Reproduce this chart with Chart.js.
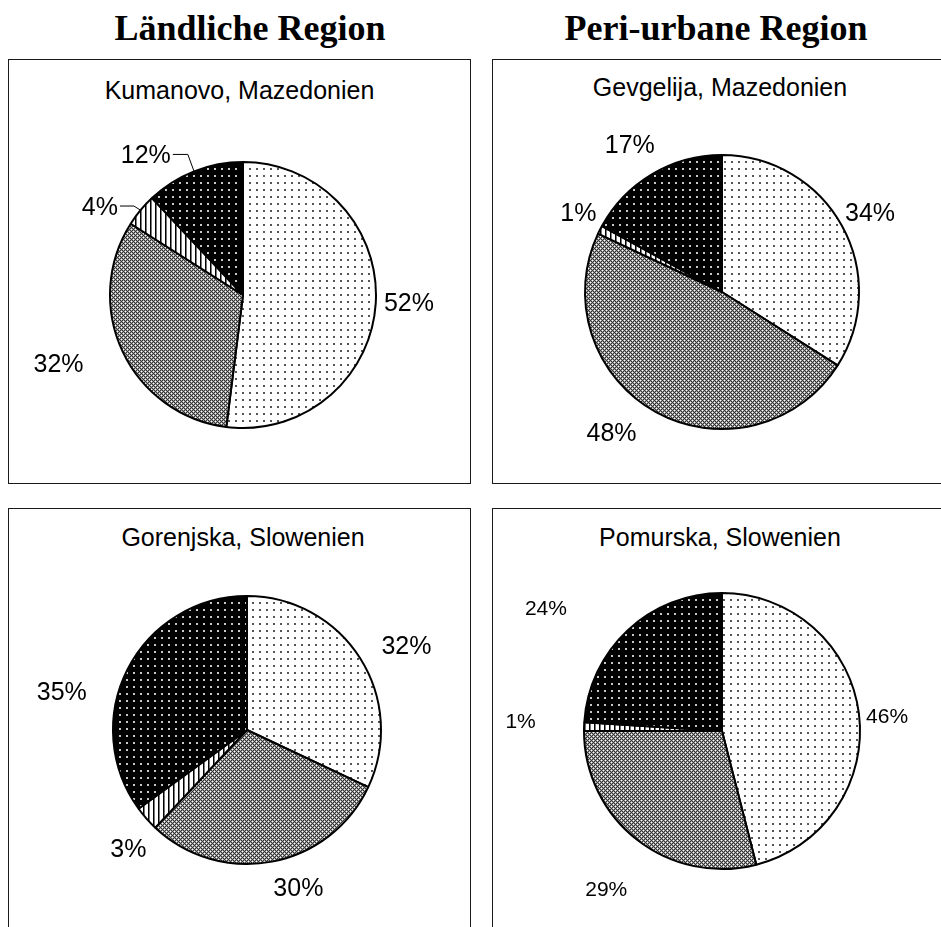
<!DOCTYPE html>
<html lang="de">
<head>
<meta charset="utf-8">
<title>Ländliche und peri-urbane Regionen</title>
<script src="https://cdn.jsdelivr.net/npm/chart.js@4.4.1/dist/chart.umd.min.js"></script>
<style>
  html, body { margin: 0; padding: 0; background: #fff; }
  body { width: 941px; height: 927px; position: relative; overflow: hidden; }
  .head {
    position: absolute; top: 8px; width: 500px; text-align: center;
    font-family: "Liberation Serif", "Times New Roman", serif; font-weight: bold;
    font-size: 36px; line-height: 40px; color: #000;
  }
  .panel {
    position: absolute; box-sizing: border-box; border: 1.5px solid #1a1a1a; background: transparent;
  }
  .sub {
    position: absolute; text-align: center;
    font-family: "Liberation Sans", Arial, sans-serif; font-size: 25px; line-height: 30px; color: #000;
  }
  canvas { position: absolute; }
</style>
</head>
<body>
<div class="head" style="left:0px;">Ländliche Region</div>
<div class="head" style="left:466px;">Peri-urbane Region</div>

<div class="panel" style="left:8px; top:59px; width:463px; height:425px;"></div>
<div class="panel" style="left:492px; top:59px; width:463px; height:425px;"></div>
<div class="panel" style="left:8px; top:508px; width:463px; height:440px;"></div>
<div class="panel" style="left:492px; top:508px; width:463px; height:440px;"></div>

<div class="sub" style="left:8px; width:463px; top:75px;">Kumanovo, Mazedonien</div>
<div class="sub" style="left:492px; width:456px; top:72px;">Gevgelija, Mazedonien</div>
<div class="sub" style="left:8px; width:470px; top:522px;">Gorenjska, Slowenien</div>
<div class="sub" style="left:492px; width:456px; top:522px;">Pomurska, Slowenien</div>

<canvas id="kumanovo"></canvas>
<canvas id="gevgelija"></canvas>
<canvas id="gorenjska"></canvas>
<canvas id="pomurska"></canvas>

<script>
// Shares (%) per region, clockwise from 12 o'clock
const categories = ['Kategorie 1', 'Kategorie 2', 'Kategorie 3', 'Kategorie 4'];
const kumanovoShares  = [52, 32, 4, 12];
const gevgelijaShares = [34, 48, 1, 17];
const gorenjskaShares = [32, 30, 3, 35];
const pomurskaShares  = [46, 29, 1, 24];

// ---- fill patterns ----
function makeTile(w, h, draw) {
  const c = document.createElement('canvas');
  c.width = w; c.height = h;
  const g = c.getContext('2d');
  draw(g);
  return g.createPattern(c, 'repeat');
}
const dotsOnWhite = makeTile(7, 7, g => {
  g.fillStyle = '#fff'; g.fillRect(0, 0, 7, 7);
  g.fillStyle = '#555'; g.fillRect(3, 3, 2, 2);
});
const greyHatch = makeTile(4, 4, g => {
  g.fillStyle = '#a0a0a0'; g.fillRect(0, 0, 4, 4);
  g.fillStyle = '#333';
  [[0,0],[1,1],[2,2],[3,3],[1,3],[3,1]].forEach(([x, y]) => g.fillRect(x, y, 1, 1));
  g.fillStyle = '#fff';
  g.fillRect(2, 0, 1, 1); g.fillRect(0, 2, 1, 1);
});
const verticalStripes = makeTile(5, 4, g => {
  g.fillStyle = '#fff'; g.fillRect(0, 0, 5, 4);
  g.fillStyle = '#000'; g.fillRect(0, 0, 1, 4);
  g.fillStyle = '#777'; g.fillRect(1, 0, 1, 4);
});
const dotsOnBlack = makeTile(7, 7, g => {
  g.fillStyle = '#000'; g.fillRect(0, 0, 7, 7);
  g.fillStyle = '#c8c8c8'; g.fillRect(3, 3, 2, 2);
});
const sliceFills = [dotsOnWhite, greyHatch, verticalStripes, dotsOnBlack];

// ---- percentage labels outside the slices ----
const pieLabels = {
  id: 'pieLabels',
  afterDatasetsDraw(chart, args, opts) {
    const ctx = chart.ctx;
    const meta = chart.getDatasetMeta(0);
    const values = chart.data.datasets[0].data;
    ctx.save();
    ctx.font = opts.size + 'px "Liberation Sans", Arial, sans-serif';
    ctx.fillStyle = '#000';
    ctx.strokeStyle = '#000';
    ctx.lineWidth = 1;
    ctx.textAlign = 'center';
    ctx.textBaseline = 'middle';
    meta.data.forEach((arc, i) => {
      const p = arc.getProps(['x', 'y', 'startAngle', 'endAngle', 'outerRadius'], true);
      const mid = (p.startAngle + p.endAngle) / 2;
      const d = p.outerRadius * opts.distance;
      const n = (opts.nudge && opts.nudge[i]) || [0, 0];
      const lx = p.x + Math.cos(mid) * d + n[0];
      const ly = p.y + Math.sin(mid) * d + n[1] + 2;
      const text = values[i] + '%';
      ctx.fillText(text, lx, ly);
      const run = opts.leaders && opts.leaders[i];
      if (run) {
        const w = ctx.measureText(text).width;
        const ex = p.x + Math.cos(mid) * p.outerRadius;
        const ey = p.y + Math.sin(mid) * p.outerRadius;
        const sx = lx + w / 2 + 2;
        const sy = ly - 2;
        ctx.beginPath();
        ctx.moveTo(sx, sy);
        ctx.lineTo(sx + run, sy);
        ctx.lineTo(ex, ey);
        ctx.stroke();
      }
    });
    ctx.restore();
  }
};

function drawPie(id, shares, cx, cy, radius, labelOpts) {
  const canvas = document.getElementById(id);
  const size = 2 * (radius + 95);
  canvas.width = size; canvas.height = size;
  canvas.style.left = (cx - size / 2) + 'px';
  canvas.style.top = (cy - size / 2) + 'px';
  canvas.style.width = size + 'px';
  canvas.style.height = size + 'px';
  return new Chart(canvas, {
    type: 'pie',
    data: {
      labels: categories,
      datasets: [{
        data: shares,
        backgroundColor: sliceFills,
        borderColor: '#000',
        borderWidth: 2
      }]
    },
    options: {
      responsive: false,
      animation: false,
      devicePixelRatio: 1,
      radius: radius,
      layout: { padding: 0 },
      plugins: {
        legend: { display: false },
        tooltip: { enabled: false },
        title: { display: false },
        pieLabels: labelOpts
      }
    },
    plugins: [pieLabels]
  });
}

drawPie('kumanovo', kumanovoShares, 243, 295, 133, {
  size: 25, distance: 1.25,
  nudge: [[0, -3], [-34, -3], [-15, 17], [-36, 14]],
  leaders: [0, 0, 14, 15]
});
drawPie('gevgelija', gevgelijaShares, 722, 292, 137, {
  size: 25, distance: 1.25,
  nudge: [[-2, 3], [-28, -10], [9, -2], [-5, 0]]
});
drawPie('gorenjska', gorenjskaShares, 247, 730, 134, {
  size: 25, distance: 1.25,
  nudge: [[18, 5], [20, -7], [7, 7], [-36, 37]]
});
drawPie('pomurska', pomurskaShares, 722, 731, 138, {
  size: 21, distance: 1.25,
  nudge: [[-6, 6], [-10, 21], [-29, -5], [-58, 2]]
});
</script>
</body>
</html>
